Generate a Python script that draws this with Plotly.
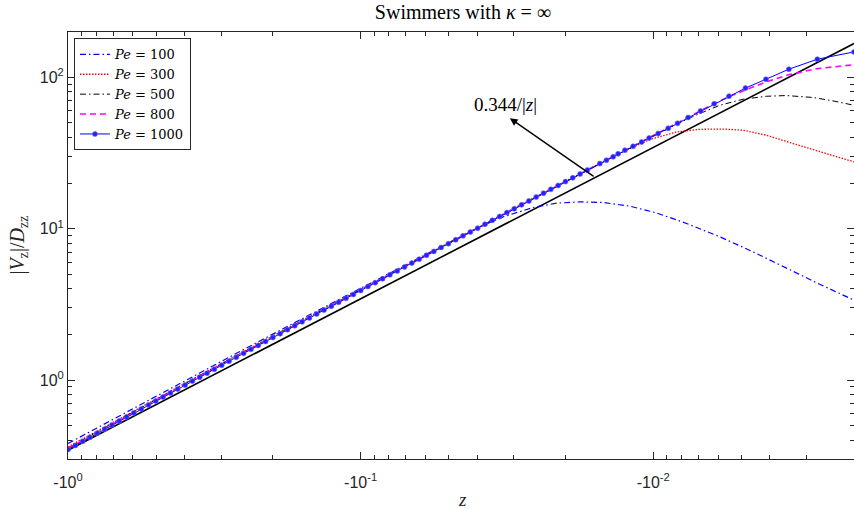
import math
import plotly.graph_objects as go

# ---------------- data ----------------
# reference line 0.344/|z|
ref_z = [-1.0, -0.00206]
ref_v = [0.344, 167.0]

pe100_z = [-1.0, -0.631, -0.3981, -0.2512, -0.1585, -0.1, -0.0631, -0.03912, -0.03258,
           -0.0257, -0.02138, -0.01782, -0.01483, -0.01202, -0.00975, -0.00769, -0.00592,
           -0.00456, -0.00369, -0.00275, -0.00206]
pe100_v = [0.381, 0.616, 0.992, 1.591, 2.539, 4.042, 6.407, 10.28, 11.97, 13.80, 14.73,
           15.03, 14.89, 14.08, 12.71, 10.82, 8.83, 7.03, 5.74, 4.37, 3.37]

pe300_z = [-1.0, -0.631, -0.3981, -0.2512, -0.1585, -0.1, -0.0631, -0.03981, -0.02512,
           -0.01585, -0.0130, -0.01028, -0.00832, -0.00693, -0.00577, -0.00493, -0.0041,
           -0.00333, -0.00256, -0.00206]
pe300_v = [0.362, 0.588, 0.959, 1.544, 2.481, 3.977, 6.377, 10.20, 16.28, 25.92, 31.5,
           38.8, 43.5, 45.3, 45.5, 44.7, 41.4, 36.5, 31.3, 27.6]

pe500_z = [-1.0, -0.3981, -0.1585, -0.0631, -0.02512, -0.01259, -0.01, -0.00794, -0.00708,
           -0.00592, -0.00493, -0.0041, -0.00351, -0.00284, -0.00243, -0.00206]
pe500_v = [0.356, 0.948, 2.464, 6.333, 16.17, 32.48, 40.8, 51.1, 56.6, 65.3, 71.6, 74.9,
           75.7, 73.5, 69.8, 65.3]

pe800_z = [-1.0, -0.3981, -0.1585, -0.0631, -0.02512, -0.01585, -0.00962, -0.0076,
           -0.00619, -0.00551, -0.00484, -0.00412, -0.00344, -0.00275, -0.00206]
pe800_v = [0.352, 0.937, 2.436, 6.304, 16.17, 25.86, 42.5, 54.4, 67.0, 74.5, 82.5, 93.0,
           104.0, 114.0, 121.0]

pe1000_z = [-1.0, -0.9441, -0.8913, -0.8414, -0.7943, -0.7499, -0.7079, -0.6683, -0.6310,
            -0.5957, -0.5623, -0.5309, -0.5012, -0.4732, -0.4467, -0.4217, -0.3981, -0.3758,
            -0.3548, -0.3350, -0.3162, -0.2985, -0.2818, -0.2661, -0.2512, -0.2371, -0.2239,
            -0.2113, -0.1995, -0.1884, -0.1778, -0.1679, -0.1585, -0.1496, -0.1413, -0.1334,
            -0.1259, -0.1189, -0.1122, -0.1059, -0.1, -0.09441, -0.08913, -0.08414, -0.07943,
            -0.07499, -0.07079, -0.06683, -0.06310, -0.05957, -0.05623, -0.05309, -0.05012,
            -0.04732, -0.04467, -0.04217, -0.03981, -0.03758, -0.03548, -0.03350, -0.03162,
            -0.02985, -0.02818, -0.02661, -0.02512, -0.02371, -0.02239, -0.02113, -0.01995,
            -0.01884, -0.01778, -0.01679,
            -0.01522, -0.01445, -0.01371, -0.01318, -0.0125, -0.01172, -0.01096, -0.01033,
            -0.00962, -0.00889, -0.00826, -0.0076, -0.00689, -0.00619, -0.00551, -0.00484,
            -0.00412, -0.00344, -0.00275, -0.00206]
pe1000_v = [0.348, 0.370, 0.394, 0.419, 0.446, 0.474, 0.5045, 0.537, 0.571, 0.6065, 0.644,
            0.6845, 0.727, 0.772, 0.8205, 0.872, 0.926, 0.984, 1.045, 1.110, 1.179, 1.253,
            1.331, 1.414, 1.502, 1.595, 1.693, 1.797, 1.909, 2.026, 2.151, 2.284, 2.424,
            2.573, 2.732, 2.899, 3.077, 3.266, 3.466, 3.679, 3.905, 4.144, 4.399, 4.669,
            4.956, 5.260, 5.583, 5.926, 6.290, 6.671, 7.076, 7.508, 7.963, 8.447, 8.960,
            9.506, 10.08, 10.70, 11.35, 12.04, 12.77, 13.54, 14.37, 15.24, 16.17, 17.15,
            18.18, 19.28, 20.45, 21.68, 22.99, 24.39,
            26.9, 28.3, 29.8, 31.2, 33.0, 35.0, 37.3, 39.7, 42.5, 46.0, 49.6, 54.2, 59.8,
            66.8, 75.0, 84.8, 97.0, 113.0, 131.5, 147.0]

series_names = ["<i>Pe</i> = 100", "<i>Pe</i> = 300", "<i>Pe</i> = 500",
                "<i>Pe</i> = 800", "<i>Pe</i> = 1000"]

x_major_vals = [1, 0.1, 0.01]
x_major_text = ["-10<sup>0</sup>", "-10<sup>-1</sup>", "-10<sup>-2</sup>"]
y_major_vals = [1, 10, 100]
y_major_text = ["10<sup>0</sup>", "10<sup>1</sup>", "10<sup>2</sup>"]

annot_text = "0.344/|<i>z</i>|"
annot_head = (-0.0309, 53.6)   # arrow head (z, value)
annot_tail = (-0.0158, 21.8)   # arrow tail on reference line
annot_label = (-0.0321, 66.4)  # label centre

# ---------------- figure ----------------
def absl(a):
    return [abs(v) for v in a]

AX = "#262626"
SERIF = "Liberation Serif"
SANS = "Liberation Sans"

fig = go.Figure()
fig.add_trace(go.Scatter(x=absl(ref_z), y=ref_v, mode="lines",
                         line=dict(color="black", width=1.6), showlegend=False))
fig.add_trace(go.Scatter(x=absl(pe100_z), y=pe100_v, mode="lines", name=series_names[0],
                         line=dict(color="#0000ff", width=1.2, dash="6px,3px,1.5px,3px")))
fig.add_trace(go.Scatter(x=absl(pe300_z), y=pe300_v, mode="lines", name=series_names[1],
                         line=dict(color="#ff0000", width=1.3, dash="1.5px,1.5px")))
fig.add_trace(go.Scatter(x=absl(pe500_z), y=pe500_v, mode="lines", name=series_names[2],
                         line=dict(color="black", width=1.0, dash="6px,3px,1.5px,3px")))
fig.add_trace(go.Scatter(x=absl(pe800_z), y=pe800_v, mode="lines", name=series_names[3],
                         line=dict(color="#ff00ff", width=1.6, dash="6px,4px")))
fig.add_trace(go.Scatter(x=absl(pe1000_z), y=pe1000_v, mode="lines+markers", name=series_names[4],
                         line=dict(color="#0000ff", width=1.0),
                         marker=dict(symbol="circle", size=5, color="#2222ff",
                                     line=dict(width=0.6, color="#6666ff"))))

x_minor = [m * 10 ** e for e in (-1, -2, -3) for m in range(2, 10)]
y_minor = [m * 10 ** e for e in (-1, 0, 1) for m in range(2, 10)]

axis_common = dict(type="log", showgrid=False, zeroline=False, showline=True,
                   linecolor=AX, linewidth=1, mirror="ticks", ticks="inside",
                   ticklen=7, tickwidth=1, tickcolor=AX,
                   tickfont=dict(family=SANS, size=16, color=AX))

fig.update_xaxes(**axis_common, range=[0, math.log10(0.00206)],
                 tickmode="array", tickvals=x_major_vals, ticktext=x_major_text,
                 ticklabelstandoff=9,
                 minor=dict(tickmode="array", tickvals=x_minor, ticks="inside",
                            ticklen=4, tickcolor=AX, tickwidth=1, showgrid=False))
fig.update_yaxes(**axis_common, range=[math.log10(0.301), math.log10(199)],
                 tickmode="array", tickvals=y_major_vals, ticktext=y_major_text,
                 minor=dict(tickmode="array", tickvals=y_minor, ticks="inside",
                            ticklen=4, tickcolor=AX, tickwidth=1, showgrid=False))

lg = math.log10
fig.add_annotation(x=lg(abs(annot_head[0])), y=lg(annot_head[1]), xref="x", yref="y",
                   ax=lg(abs(annot_tail[0])), ay=lg(annot_tail[1]), axref="x", ayref="y",
                   text="", showarrow=True, arrowhead=2, arrowsize=1.1, arrowwidth=1.4,
                   arrowcolor="black")
fig.add_annotation(x=lg(abs(annot_label[0])), y=lg(annot_label[1]), xref="x", yref="y",
                   text=annot_text, showarrow=False,
                   font=dict(family=SERIF, size=19, color="black"))
fig.add_annotation(x=0.5025, y=-0.096, xref="paper", yref="paper", text="<i>z</i>",
                   showarrow=False, font=dict(family=SERIF, size=19, color=AX),
                   xanchor="center", yanchor="middle")
fig.add_annotation(x=-0.0636, y=0.5, xref="paper", yref="paper",
                   text="|<i>V</i><sub>z</sub>|/<i>D</i><sub>zz</sub>", textangle=-90,
                   showarrow=False, font=dict(family=SERIF, size=20, color=AX),
                   xanchor="center", yanchor="middle")

fig.update_layout(
    width=854, height=509,
    margin=dict(l=68, r=0, t=32, b=50),
    paper_bgcolor="white", plot_bgcolor="white",
    title=dict(text="Swimmers with <i>κ</i> = ∞", x=0.5025, xref="paper", xanchor="center",
               y=1 - 12 / 509, yanchor="middle",
               font=dict(family=SERIF, size=20, color="black")),
    legend=dict(x=0.0076, y=0.985, xanchor="left", yanchor="top", bgcolor="white",
                bordercolor=AX, borderwidth=1, itemwidth=30, tracegroupgap=0,
                font=dict(family="DejaVu Serif", size=13, color="black")),
    showlegend=True,
)

fig.write_html("out.html")
